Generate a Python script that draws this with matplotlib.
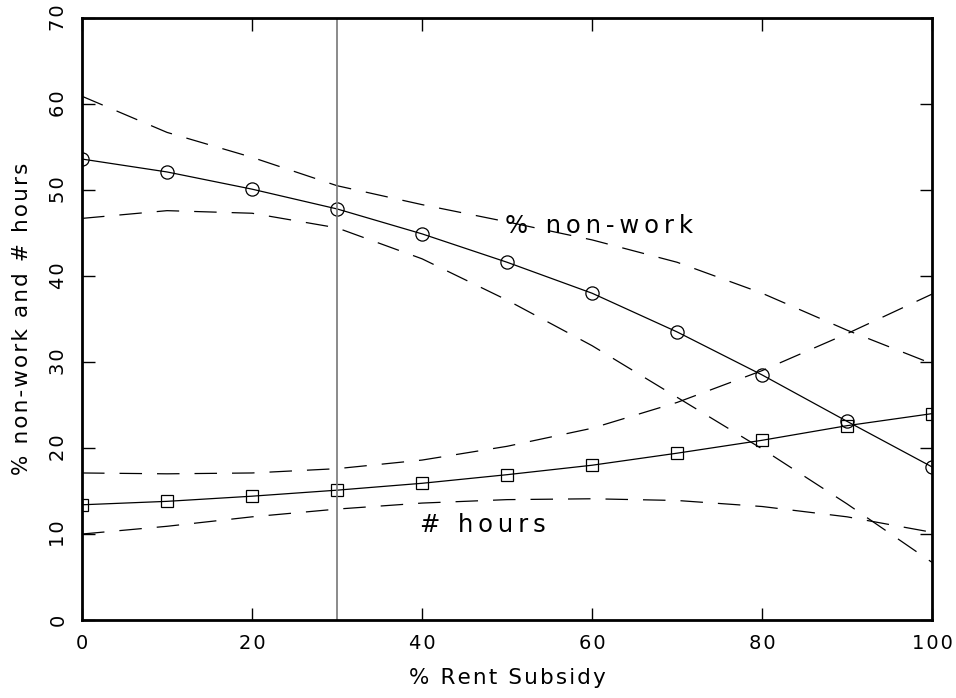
import matplotlib
matplotlib.use("Agg")
import matplotlib.pyplot as plt

# values
subsidy = [0, 10, 20, 30, 40, 50, 60, 70, 80, 90, 100]
nonwork = [53.6, 52.1, 50.1, 47.8, 44.9, 41.6, 38.0, 33.5, 28.5, 23.1, 17.8]
nonwork_hi = [60.9, 56.7, 53.8, 50.5, 48.3, 46.3, 44.2, 41.6, 38.0, 33.7, 29.8]
nonwork_lo = [46.7, 47.6, 47.3, 45.6, 42.0, 37.2, 31.9, 25.9, 19.9, 13.5, 6.7]
hours = [13.4, 13.8, 14.4, 15.1, 15.9, 16.9, 18.0, 19.4, 20.9, 22.6, 24.0]
hours_hi = [17.1, 17.0, 17.1, 17.6, 18.6, 20.2, 22.3, 25.3, 29.0, 33.3, 37.9]
hours_lo = [10.0, 10.9, 12.0, 12.9, 13.6, 14.0, 14.1, 13.9, 13.2, 12.0, 10.2]
cutoff = 30


def spaced(s, gap='\u200a'):
    # loose letter spacing like the original plotter font
    return gap.join(s)


plt.rcParams['font.family'] = ['DejaVu Sans']
fig = plt.figure(figsize=(9.56, 6.98), dpi=100)
ax = fig.add_axes([0.0858, 0.1117, 0.8892, 0.8625])

dash = (0, (18, 12))
ax.plot(subsidy, nonwork, c='black', lw=0.9, marker='o', ms=9.5, mfc='none', mec='black', mew=0.9)
ax.plot(subsidy, hours, c='black', lw=0.9, marker='s', ms=8.5, mfc='none', mec='black', mew=0.9)
for s in [nonwork_hi, nonwork_lo, hours_hi, hours_lo]:
    ax.plot(subsidy, s, c='black', lw=0.9, linestyle=dash)
ax.axvline(cutoff, c='#777777', lw=1.2)

ax.text(49.8, 45.8, spaced('% non-work', '\u2009'), fontsize=17.5, va='center', ha='left')
ax.text(39.8, 11.0, spaced('# hours', '\u2009'), fontsize=17.5, va='center', ha='left')

ax.set_xlim(0, 100)
ax.set_ylim(0, 70)
ax.set_xticks([0, 20, 40, 60, 80, 100])
ax.set_xticklabels([spaced(str(v)) for v in [0, 20, 40, 60, 80, 100]])
ax.set_yticks(range(0, 71, 10))
ax.set_yticklabels([spaced(str(v)) for v in range(0, 71, 10)])
ax.tick_params(direction='in', length=9, width=1, top=True, right=True, labelsize=14, pad=10)
for lab in ax.get_yticklabels():
    lab.set_rotation(90)
    lab.set_va('center')
for sp in ax.spines.values():
    sp.set_linewidth(2)

ax.set_xlabel(spaced('% Rent Subsidy'), fontsize=15.5, labelpad=11)
ax.set_ylabel(spaced('% non-work and # hours'), fontsize=15.5, labelpad=12)

fig.savefig('out.png', dpi=100)
